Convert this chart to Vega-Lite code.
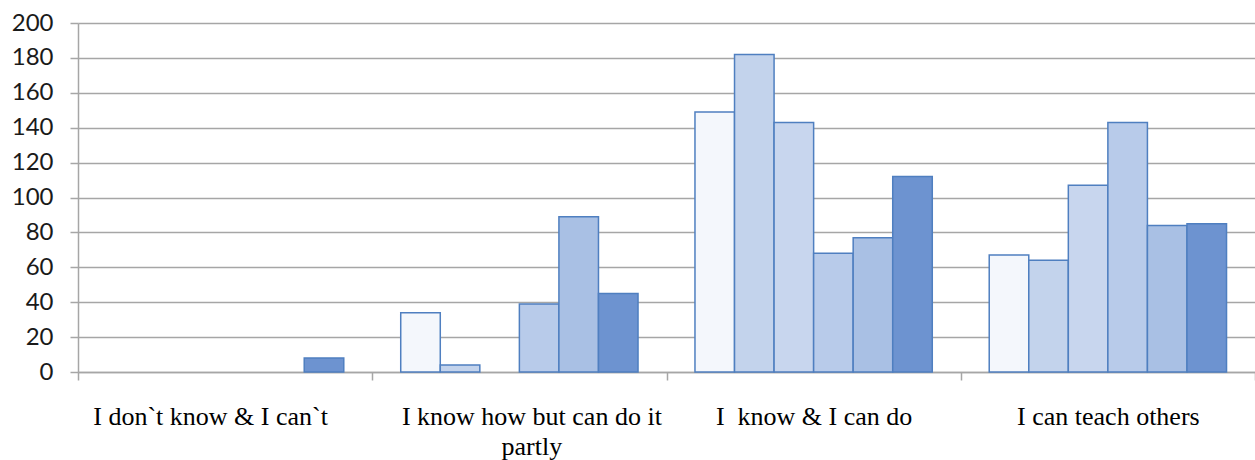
{
  "$schema": "https://vega.github.io/schema/vega-lite/v6.json",
  "autosize": {"type": "none"},
  "padding": {"left": 78, "top": 23, "right": 0, "bottom": 88},
  "width": 1177,
  "height": 349,
  "background": "white",
  "config": {"view": {"stroke": null}},
  "data": {
    "values": [
      {"cat": "I don`t know & I can`t", "s": "S6", "v": 8},
      {"cat": "I know how but can do it partly", "s": "S1", "v": 34},
      {"cat": "I know how but can do it partly", "s": "S2", "v": 4},
      {"cat": "I know how but can do it partly", "s": "S4", "v": 39},
      {"cat": "I know how but can do it partly", "s": "S5", "v": 89},
      {"cat": "I know how but can do it partly", "s": "S6", "v": 45},
      {"cat": "I\u00a0 know & I can do", "s": "S1", "v": 149},
      {"cat": "I\u00a0 know & I can do", "s": "S2", "v": 182},
      {"cat": "I\u00a0 know & I can do", "s": "S3", "v": 143},
      {"cat": "I\u00a0 know & I can do", "s": "S4", "v": 68},
      {"cat": "I\u00a0 know & I can do", "s": "S5", "v": 77},
      {"cat": "I\u00a0 know & I can do", "s": "S6", "v": 112},
      {"cat": "I can teach others", "s": "S1", "v": 67},
      {"cat": "I can teach others", "s": "S2", "v": 64},
      {"cat": "I can teach others", "s": "S3", "v": 107},
      {"cat": "I can teach others", "s": "S4", "v": 143},
      {"cat": "I can teach others", "s": "S5", "v": 84},
      {"cat": "I can teach others", "s": "S6", "v": 85}
    ]
  },
  "mark": {"type": "bar", "stroke": "#4f7fc0", "strokeWidth": 1.5},
  "encoding": {
    "x": {
      "field": "cat",
      "type": "nominal",
      "sort": ["I don`t know & I can`t", "I know how but can do it partly", "I\u00a0 know & I can do", "I can teach others"],
      "scale": {"paddingInner": 0, "paddingOuter": 0},
      "axis": {
        "title": null,
        "labelAngle": 0,
        "labelFont": "Liberation Serif",
        "labelFontSize": 26,
        "labelColor": "#000000",
        "labelPadding": 23,
        "labelLineHeight": 30,
        "labelLimit": 0,
        "labelOffset": {
          "condition": [
            {"test": "datum.value == 'I don`t know & I can`t'", "value": -15},
            {"test": "datum.value == 'I know how but can do it partly'", "value": 12}
          ],
          "value": 0
        },
        "labelExpr": "datum.value == 'I know how but can do it partly' ? ['I know how but can do it', 'partly'] : datum.value",
        "tickBand": "extent",
        "tickSize": 8,
        "tickColor": "#a6a6a6",
        "tickWidth": 1.5,
        "domainColor": "#a6a6a6",
        "domainWidth": 1.5,
        "grid": false
      }
    },
    "xOffset": {
      "field": "s",
      "type": "nominal",
      "sort": ["S1", "S2", "S3", "S4", "S5", "S6"],
      "scale": {"domain": ["S1", "S2", "S3", "S4", "S5", "S6"], "paddingInner": 0, "paddingOuter": 0.72}
    },
    "y": {
      "field": "v",
      "type": "quantitative",
      "scale": {"domain": [0, 200]},
      "axis": {
        "title": null,
        "values": [0, 20, 40, 60, 80, 100, 120, 140, 160, 180, 200],
        "labelFont": "Lato",
        "labelFontSize": 24,
        "labelColor": "#1a1a1a",
        "labelPadding": 17,
        "tickSize": 8,
        "tickColor": "#a6a6a6",
        "tickWidth": 1.5,
        "domainColor": "#a6a6a6",
        "domainWidth": 1.5,
        "gridColor": "#a6a6a6",
        "gridWidth": 1.5
      }
    },
    "fill": {
      "field": "s",
      "type": "nominal",
      "scale": {
        "domain": ["S1", "S2", "S3", "S4", "S5", "S6"],
        "range": ["#f4f7fc", "#c3d3ec", "#c8d6ee", "#b8cbea", "#a9c0e4", "#6d93d0"]
      },
      "legend": null
    }
  }
}
